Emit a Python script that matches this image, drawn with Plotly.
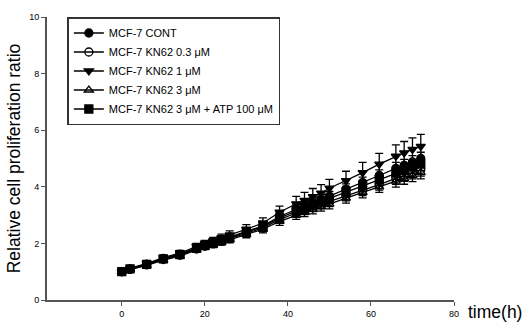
import plotly.graph_objects as go

times = [0, 2, 6, 10, 14, 18, 20, 22, 24, 26, 30, 34, 38, 42, 44, 46, 48, 50, 54, 58, 62, 66, 68, 70, 72]

names = ["MCF-7 CONT", "MCF-7 KN62 0.3 \u03bcM", "MCF-7 KN62 1 \u03bcM",
         "MCF-7 KN62 3 \u03bcM", "MCF-7 KN62 3 \u03bcM + ATP 100 \u03bcM"]

cont = [1.00, 1.10, 1.27, 1.47, 1.62, 1.85, 1.95, 2.03, 2.13, 2.23, 2.42, 2.62, 2.95, 3.22, 3.33, 3.45, 3.56, 3.67, 3.92, 4.15, 4.40, 4.65, 4.76, 4.88, 5.00]
kn03 = [1.00, 1.08, 1.24, 1.43, 1.58, 1.80, 1.90, 1.98, 2.07, 2.17, 2.36, 2.55, 2.85, 3.08, 3.18, 3.28, 3.38, 3.47, 3.68, 3.88, 4.08, 4.30, 4.40, 4.50, 4.60]
kn1 = [1.00, 1.12, 1.29, 1.50, 1.66, 1.90, 2.00, 2.09, 2.20, 2.30, 2.50, 2.72, 3.10, 3.40, 3.52, 3.65, 3.78, 3.95, 4.22, 4.50, 4.80, 5.08, 5.20, 5.32, 5.43]
kn3 = [1.00, 1.07, 1.22, 1.41, 1.55, 1.77, 1.87, 1.95, 2.04, 2.13, 2.32, 2.50, 2.78, 3.00, 3.10, 3.20, 3.30, 3.39, 3.60, 3.80, 4.00, 4.20, 4.30, 4.40, 4.50]
kn3atp = [1.00, 1.10, 1.26, 1.45, 1.60, 1.83, 1.93, 2.01, 2.10, 2.20, 2.40, 2.60, 2.90, 3.15, 3.26, 3.37, 3.48, 3.58, 3.82, 4.03, 4.25, 4.48, 4.58, 4.70, 4.80]

err_small = [0.04, 0.05, 0.06, 0.07, 0.08, 0.09, 0.09, 0.10, 0.10, 0.11, 0.12, 0.13, 0.14, 0.15, 0.15, 0.16, 0.16, 0.17, 0.18, 0.19, 0.20, 0.21, 0.21, 0.22, 0.22]
err_big = [0.05, 0.06, 0.07, 0.08, 0.09, 0.10, 0.11, 0.12, 0.13, 0.14, 0.16, 0.18, 0.22, 0.26, 0.28, 0.29, 0.30, 0.31, 0.33, 0.36, 0.38, 0.40, 0.40, 0.41, 0.42]

series = [cont, kn03, kn1, kn3, kn3atp]
errors = [err_small, err_small, err_big, err_small, err_small]
symbols = ["circle", "circle-open", "triangle-down", "triangle-up-open", "square"]

fig = go.Figure()
for name, ys, es, sym in zip(names, series, errors, symbols):
    fig.add_trace(go.Scatter(
        x=times, y=ys, name=name, mode="lines+markers",
        line=dict(color="black", width=1.3),
        marker=dict(symbol=sym, size=8, color="black", line=dict(color="black", width=1.3)),
        error_y=dict(type="data", array=es, symmetric=True, color="black", thickness=1.3, width=4),
    ))

fig.update_layout(
    width=531, height=331,
    margin=dict(l=47, r=77, t=13, b=24),
    paper_bgcolor="white", plot_bgcolor="white",
    font=dict(family="Arial, Liberation Sans", color="black", size=9),
    showlegend=True,
    legend=dict(
        x=0.05, y=1.0, xanchor="left", yanchor="top",
        bgcolor="white", bordercolor="#333333", borderwidth=1.5,
        font=dict(size=11, family="Arial, Liberation Sans"),
        tracegroupgap=0, itemwidth=30,
    ),
    xaxis=dict(
        range=[-18, 80], tickvals=[0, 20, 40, 60, 80], ticks="outside", ticklen=4,
        tickcolor="#555555", showline=True, linecolor="#555555", linewidth=1.8,
        showgrid=False, zeroline=False, tickfont=dict(size=9),
    ),
    yaxis=dict(
        range=[0, 10], tickvals=[0, 2, 4, 6, 8, 10], ticks="outside", ticklen=4,
        tickcolor="#555555", showline=True, linecolor="#555555", linewidth=1.8,
        showgrid=False, zeroline=False, tickfont=dict(size=9),
        title=dict(text="Relative cell proliferation ratio", font=dict(size=17.5), standoff=4),
    ),
    annotations=[dict(
        text="time(h)", xref="paper", yref="paper", x=1.03, y=0.0, xanchor="left",
        yanchor="middle", yshift=-12, showarrow=False, font=dict(size=17.5),
    )],
)

fig.write_html("out.html")
